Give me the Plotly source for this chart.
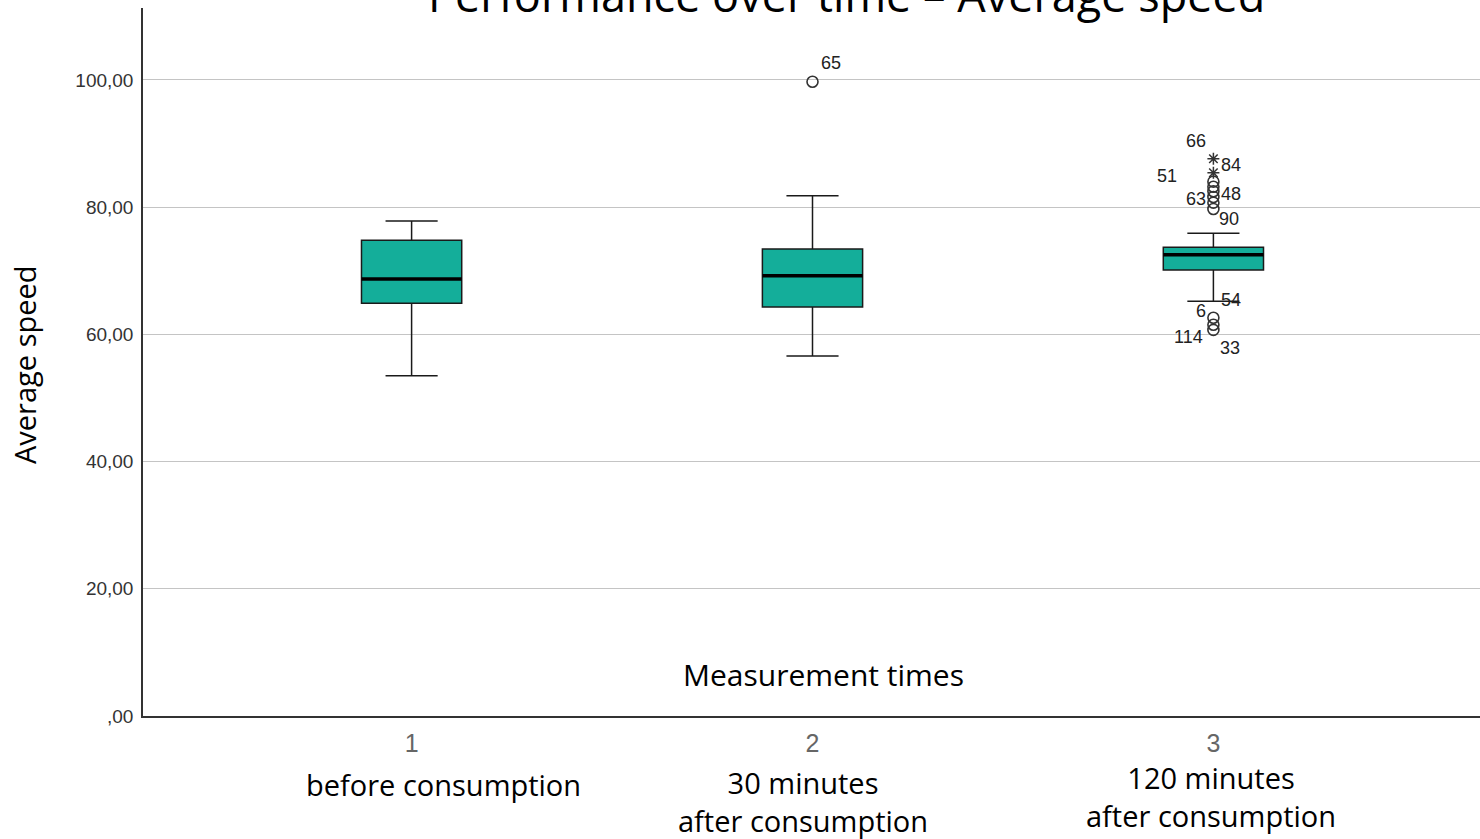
import plotly.graph_objects as go

# ---------------- data ----------------
categories = [1, 2, 3]
category_ticks = ["1", "2", "3"]
category_names = ["before consumption", "30 minutes<br>after consumption", "120 minutes<br>after consumption"]

q1 = [64.9, 64.3, 70.1]
median = [68.7, 69.2, 72.5]
q3 = [74.8, 73.4, 73.7]
lower_whisker = [53.5, 56.6, 65.2]
upper_whisker = [77.8, 81.8, 75.9]

# mild outliers (circles)
outlier_cat = [2, 3, 3, 3, 3, 3, 3, 3, 3, 3]
outlier_val = [99.7, 84.0, 83.2, 82.5, 81.6, 80.7, 79.7, 62.6, 61.5, 60.7]
# extreme outliers (stars)
extreme_cat = [3, 3]
extreme_val = [87.6, 85.4]

# case labels
case_label_cat = [2, 3, 3, 3, 3, 3, 3, 3, 3, 3, 3]
case_label_val = [99.7, 87.6, 85.4, 84.0, 83.2, 82.5, 79.7, 62.6, 62.6, 60.7, 60.7]
case_label_txt = ["65", "66", "84", "51", "48", "63", "90", "54", "6", "114", "33"]
case_label_dx = [18, -17, 18, -46, 18, -17, 16, 18, -12, -25, 17]
case_label_dy = [19, 18, 8, 6, -7, -8, -10, 18, 7, -7, -18]

y_ticks = [0, 20, 40, 60, 80, 100]
y_tick_text = [",00", "20,00", "40,00", "60,00", "80,00", "100,00"]

BOX_W = 0.25
TEAL = "#14ae9a"
TEXT_FONT = "Open Sans"

fig = go.Figure()

fig.add_trace(go.Box(
    x=categories, q1=q1, median=median, q3=q3,
    lowerfence=lower_whisker, upperfence=upper_whisker,
    boxpoints=False, width=BOX_W, whiskerwidth=0.52,
    fillcolor=TEAL, line=dict(color="#1a1a1a", width=1.5),
    showlegend=False, hoverinfo="skip",
))

# thicker median lines
for c, m in zip(categories, median):
    fig.add_trace(go.Scatter(
        x=[c - BOX_W / 2, c + BOX_W / 2], y=[m, m], mode="lines",
        line=dict(color="black", width=3.5), showlegend=False, hoverinfo="skip",
    ))

fig.add_trace(go.Scatter(
    x=outlier_cat, y=outlier_val, mode="markers",
    marker=dict(symbol="circle-open", size=11, color="#333333", line=dict(width=1.6)),
    showlegend=False, hoverinfo="skip",
))
fig.add_trace(go.Scatter(
    x=extreme_cat, y=extreme_val, mode="markers",
    marker=dict(symbol="asterisk-open", size=10, color="#333333", line=dict(width=1.5, color="#333333")),
    showlegend=False, hoverinfo="skip",
))

annotations = []
for c, v, t, dx, dy in zip(case_label_cat, case_label_val, case_label_txt, case_label_dx, case_label_dy):
    annotations.append(dict(
        x=c, y=v, xref="x", yref="y", text=t, showarrow=False,
        xshift=dx, yshift=dy, font=dict(family="Liberation Sans, Arial", size=18, color="#222222"),
    ))

# category description lines below tick numbers
name_dx = [32, -10, -2]
name_dy = [-68, -85, -80]
for c, name, dx, dy in zip(categories, category_names, name_dx, name_dy):
    annotations.append(dict(
        x=c, y=0, xref="x", yref="paper", text=name, showarrow=False,
        xanchor="center", yanchor="middle", yshift=dy, xshift=dx,
        font=dict(family=TEXT_FONT, size=29, color="black"),
    ))

# title (clipped at top, as in the reference)
annotations.append(dict(
    x=(846 - 143) / 1337, xref="paper", y=1, yref="paper",
    text="Performance over time – Average speed",
    showarrow=False, xanchor="center", yanchor="middle", yshift=14,
    font=dict(family=TEXT_FONT, size=45, color="black"),
))
# "Measurement times"
annotations.append(dict(
    x=0.5, xref="paper", y=0, yref="paper", text="Measurement times", showarrow=False,
    xanchor="center", yanchor="middle", yshift=42, xshift=12,
    font=dict(family=TEXT_FONT, size=30, color="black"),
))
# y axis title
annotations.append(dict(
    x=0, xref="paper", y=0.5, yref="paper", text="Average speed", showarrow=False,
    textangle=-90, xanchor="center", yanchor="middle", xshift=-119, yshift=-3,
    font=dict(family=TEXT_FONT, size=29, color="black"),
))

fig.update_layout(
    width=1480, height=839,
    margin=dict(l=143, r=0, t=8, b=123),
    paper_bgcolor="white", plot_bgcolor="white",
    annotations=annotations,
    xaxis=dict(
        range=[0.33, 3.665], tickvals=categories, ticktext=category_ticks,
        showgrid=False, zeroline=False, showline=True, linecolor="#333333", linewidth=1.5,
        ticks="", ticklabelstandoff=4,
        tickfont=dict(family="Liberation Sans, Arial", size=25, color="#666666"),
    ),
    yaxis=dict(
        range=[0, 111.3], tickvals=y_ticks, ticktext=y_tick_text,
        showgrid=True, gridcolor="#c4c4c4", gridwidth=1.2, zeroline=False,
        showline=True, linecolor="#333333", linewidth=1.5, ticks="", ticklabelstandoff=4,
        tickfont=dict(family="Liberation Sans, Arial", size=19, color="#333333"),
    ),
)

fig.write_html(
    "out.html",
    config={"displayModeBar": False},
    post_script="document.body.style.margin='0';document.body.style.overflow='hidden';",
)
